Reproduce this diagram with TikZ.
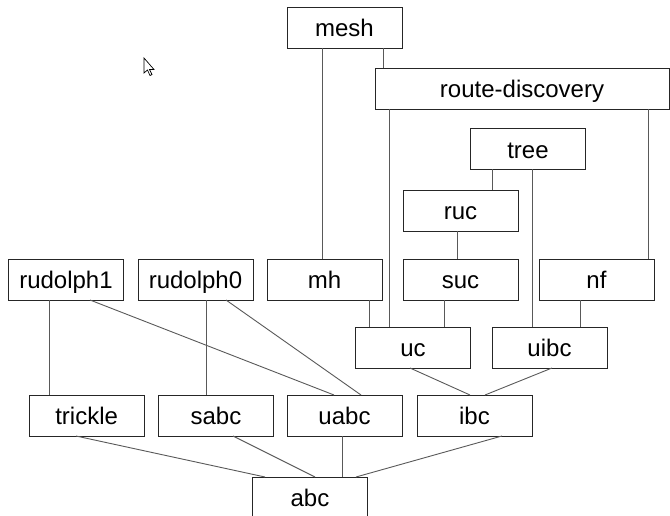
\documentclass[tikz,border=0pt]{standalone}
\usepackage{fontspec}
\setmainfont{Liberation Sans}
\begin{document}
\begin{tikzpicture}[x=1pt,y=-1pt,
  mod/.style={draw=black!85, line width=0.9pt, fill=white, minimum width=115pt,
    minimum height=41pt, inner sep=0pt, outer sep=0pt,
    font=\fontsize{24}{28}\selectfont, text height=18.5pt, text depth=0pt},
  dep/.style={draw=black!65, line width=0.9pt}]
\useasboundingbox (0,0) rectangle (670,516);
\clip (0,0) rectangle (670,516);

% module boxes
\node[mod] (mesh) at (344.5,27.5) {mesh};
\node[mod, minimum width=294pt] (rd) at (522,88.5) {route-discovery};
\node[mod] (tree) at (528,149) {tree};
\node[mod] (ruc) at (460.5,210.5) {ruc};
\node[mod] (rudolph1) at (66,279.5) {rudolph1};
\node[mod] (rudolph0) at (195.5,279.5) {rudolph0};
\node[mod] (mh) at (324.5,279.5) {mh};
\node[mod] (suc) at (460.5,279.5) {suc};
\node[mod] (nf) at (596.5,279.5) {nf};
\node[mod] (uc) at (413,347.5) {uc};
\node[mod] (uibc) at (549.5,347.5) {uibc};
\node[mod] (trickle) at (86.6,415.5) {trickle};
\node[mod] (sabc) at (216,415.5) {sabc};
\node[mod] (uabc) at (344.5,415.5) {uabc};
\node[mod] (ibc) at (474.5,415.5) {ibc};
\node[mod] (abc) at (310,497.5) {abc};

% dependencies
\draw[dep] ([xshift=38.5pt]mesh.south) -- ([xshift=-139pt]rd.north);
\draw[dep] ([xshift=-22.5pt]mesh.south) -- ([xshift=-2.5pt]mh.north);
\draw[dep] ([xshift=-133pt]rd.south) -- ([xshift=-24pt]uc.north);
\draw[dep] ([xshift=126pt]rd.south) -- ([xshift=51.5pt]nf.north);
\draw[dep] ([xshift=-36pt]tree.south) -- ([xshift=31.5pt]ruc.north);
\draw[dep] ([xshift=4pt]tree.south) -- ([xshift=-17.5pt]uibc.north);
\draw[dep] ([xshift=-3.5pt]ruc.south) -- ([xshift=-3.5pt]suc.north);
\draw[dep] ([xshift=44.5pt]mh.south) -- ([xshift=-44pt]uc.north);
\draw[dep] ([xshift=-16.5pt]suc.south) -- ([xshift=31pt]uc.north);
\draw[dep] ([xshift=-16.5pt]nf.south) -- ([xshift=30.5pt]uibc.north);
\draw[dep] ([xshift=-3pt]uc.south) -- ([xshift=-4.5pt]ibc.north);
\draw[dep] ([xshift=2.5pt]uibc.south) -- ([xshift=10.5pt]ibc.north);
\draw[dep] ([xshift=-17pt]rudolph1.south) -- ([xshift=-37.6pt]trickle.north);
\draw[dep] ([xshift=24pt]rudolph1.south) -- ([xshift=-10.5pt]uabc.north);
\draw[dep] ([xshift=10.5pt]rudolph0.south) -- ([xshift=-10pt]sabc.north);
\draw[dep] ([xshift=30.5pt]rudolph0.south) -- ([xshift=16.5pt]uabc.north);
\draw[dep] ([xshift=-10.6pt]trickle.south) -- ([xshift=-45pt]abc.north);
\draw[dep] ([xshift=17pt]sabc.south) -- ([xshift=5pt]abc.north);
\draw[dep] ([xshift=-2.5pt]uabc.south) -- ([xshift=32pt]abc.north);
\draw[dep] ([xshift=27.5pt]ibc.south) -- ([xshift=46pt]abc.north);

% mouse pointer
\draw[black, line width=0.7pt, fill=white, line join=miter]
  (144,58) -- (144,73) -- (147.5,70) -- (150,75.5) -- (152,74.5)
  -- (149.5,69.5) -- (154,69.5) -- cycle;
\end{tikzpicture}
\end{document}
